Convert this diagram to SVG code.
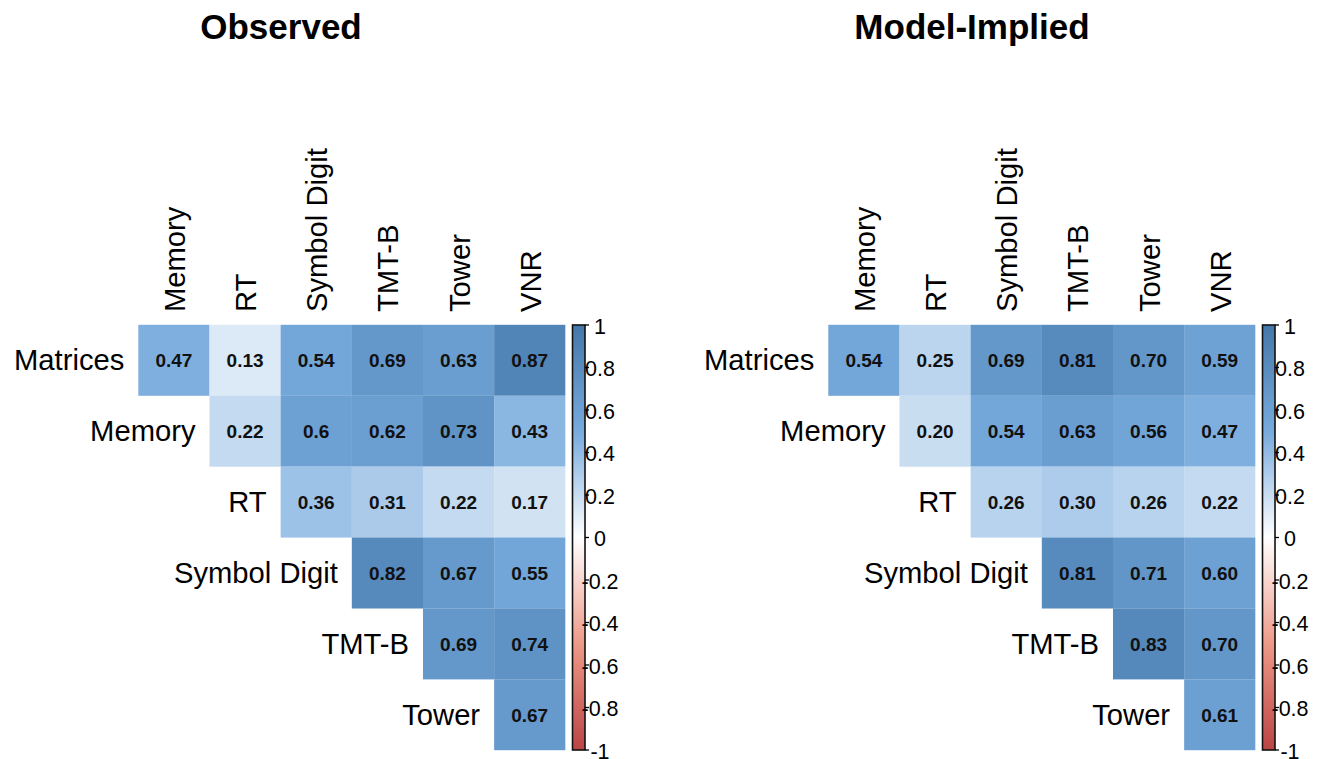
<svg xmlns="http://www.w3.org/2000/svg" width="1318" height="759" viewBox="0 0 1318 759">
<style>
.title{font-family:"Liberation Sans",Arial,sans-serif;font-weight:bold;font-size:35px;fill:#000;text-anchor:middle}
.rl{font-family:"Liberation Sans",Arial,sans-serif;font-size:29.2px;fill:#000;text-anchor:end}
.cl{font-family:"Liberation Sans",Arial,sans-serif;font-size:29.2px;fill:#000;text-anchor:start}
.v{font-family:"Liberation Sans",Arial,sans-serif;font-weight:bold;font-size:19px;fill:#111;text-anchor:middle}
.tk{font-family:"Liberation Sans",Arial,sans-serif;font-size:21.5px;fill:#000;text-anchor:middle}
.tick{stroke:#000;stroke-width:1.3}
.bar{stroke:#111;stroke-width:1.6}
</style>
<defs>
<linearGradient id="cb" x1="0" y1="0" x2="0" y2="1">
<stop offset="0" stop-color="#4477AA"/>
<stop offset="0.25" stop-color="#77AADD"/>
<stop offset="0.5" stop-color="#FFFFFF"/>
<stop offset="0.75" stop-color="#EE9988"/>
<stop offset="1" stop-color="#BB4444"/>
</linearGradient>
<g id="colorbar">
<rect class="bar" x="572.5" y="325" width="12.5" height="425" fill="url(#cb)"/>
<g class="tick">
<line x1="585" y1="325" x2="589" y2="325"/><line x1="585" y1="367.5" x2="589" y2="367.5"/><line x1="585" y1="410" x2="589" y2="410"/><line x1="585" y1="452.5" x2="589" y2="452.5"/><line x1="585" y1="495" x2="589" y2="495"/><line x1="585" y1="537.5" x2="589" y2="537.5"/><line x1="585" y1="580" x2="589" y2="580"/><line x1="585" y1="622.5" x2="589" y2="622.5"/><line x1="585" y1="665" x2="589" y2="665"/><line x1="585" y1="707.5" x2="589" y2="707.5"/><line x1="585" y1="750" x2="589" y2="750"/>
</g>
<text class="tk" x="600" y="333.5">1</text>
<text class="tk" x="600" y="376">0.8</text>
<text class="tk" x="600" y="418.5">0.6</text>
<text class="tk" x="600" y="461">0.4</text>
<text class="tk" x="600" y="503.5">0.2</text>
<text class="tk" x="600" y="546">0</text>
<text class="tk" x="600" y="588.5">-0.2</text>
<text class="tk" x="600" y="631">-0.4</text>
<text class="tk" x="600" y="673.5">-0.6</text>
<text class="tk" x="600" y="716">-0.8</text>
<text class="tk" x="600" y="758.5">-1</text>
</g>
<g id="axislabels">
<text class="rl" x="124.3" y="370.3">Matrices</text>
<text class="rl" x="195.5" y="441.2">Memory</text>
<text class="rl" x="266.6" y="512.1">RT</text>
<text class="rl" x="337.8" y="583">Symbol Digit</text>
<text class="rl" x="409" y="653.9">TMT-B</text>
<text class="rl" x="480.1" y="724.8">Tower</text>
<text class="cl" transform="translate(184.9,312) rotate(-90)">Memory</text>
<text class="cl" transform="translate(256.1,312) rotate(-90)">RT</text>
<text class="cl" transform="translate(327.2,312) rotate(-90)">Symbol Digit</text>
<text class="cl" transform="translate(398.4,312) rotate(-90)">TMT-B</text>
<text class="cl" transform="translate(469.6,312) rotate(-90)">Tower</text>
<text class="cl" transform="translate(540.7,312) rotate(-90)">VNR</text>
</g>
</defs>

<g id="observed">
<text class="title" x="281" y="39">Observed</text>
<g id="observed-cells">
<rect x="138.3" y="324.8" width="71.27" height="71" fill="#7FAFDF"/>
<rect x="209.47" y="324.8" width="71.27" height="71" fill="#DCE9F6"/>
<rect x="280.64" y="324.8" width="71.27" height="71" fill="#73A6D9"/>
<rect x="351.81" y="324.8" width="71.27" height="71" fill="#6497CA"/>
<rect x="422.98" y="324.8" width="71.27" height="71" fill="#6A9DD0"/>
<rect x="494.15" y="324.8" width="71.17" height="71" fill="#5184B7"/>
<rect x="209.47" y="395.7" width="71.27" height="71" fill="#C3DAF0"/>
<rect x="280.64" y="395.7" width="71.27" height="71" fill="#6DA0D3"/>
<rect x="351.81" y="395.7" width="71.27" height="71" fill="#6B9ED1"/>
<rect x="422.98" y="395.7" width="71.27" height="71" fill="#6093C6"/>
<rect x="494.15" y="395.7" width="71.17" height="71" fill="#8AB6E2"/>
<rect x="280.64" y="466.6" width="71.27" height="71" fill="#9DC2E7"/>
<rect x="351.81" y="466.6" width="71.27" height="71" fill="#ABCAEA"/>
<rect x="422.98" y="466.6" width="71.27" height="71" fill="#C3DAF0"/>
<rect x="494.15" y="466.6" width="71.17" height="71" fill="#D1E2F3"/>
<rect x="351.81" y="537.5" width="71.27" height="71" fill="#5689BC"/>
<rect x="422.98" y="537.5" width="71.27" height="71" fill="#6699CC"/>
<rect x="494.15" y="537.5" width="71.17" height="71" fill="#72A5D8"/>
<rect x="422.98" y="608.4" width="71.27" height="71" fill="#6497CA"/>
<rect x="494.15" y="608.4" width="71.17" height="71" fill="#5F92C5"/>
<rect x="494.15" y="679.3" width="71.17" height="70.9" fill="#6699CC"/>
</g>
<g id="observed-values">
<text class="v" x="173.9" y="367.3">0.47</text>
<text class="v" x="245.1" y="367.3">0.13</text>
<text class="v" x="316.2" y="367.3">0.54</text>
<text class="v" x="387.4" y="367.3">0.69</text>
<text class="v" x="458.6" y="367.3">0.63</text>
<text class="v" x="529.7" y="367.3">0.87</text>
<text class="v" x="245.1" y="438.2">0.22</text>
<text class="v" x="316.2" y="438.2">0.6</text>
<text class="v" x="387.4" y="438.2">0.62</text>
<text class="v" x="458.6" y="438.2">0.73</text>
<text class="v" x="529.7" y="438.2">0.43</text>
<text class="v" x="316.2" y="509.1">0.36</text>
<text class="v" x="387.4" y="509.1">0.31</text>
<text class="v" x="458.6" y="509.1">0.22</text>
<text class="v" x="529.7" y="509.1">0.17</text>
<text class="v" x="387.4" y="580">0.82</text>
<text class="v" x="458.6" y="580">0.67</text>
<text class="v" x="529.7" y="580">0.55</text>
<text class="v" x="458.6" y="651">0.69</text>
<text class="v" x="529.7" y="651">0.74</text>
<text class="v" x="529.7" y="722">0.67</text>
</g>
<use href="#axislabels"/>
<use href="#colorbar"/>
</g>

<g id="model-implied" transform="translate(690,0)">
<text class="title" x="282" y="39">Model-Implied</text>
<g id="model-cells">
<rect x="138.3" y="324.8" width="71.27" height="71" fill="#73A6D9"/>
<rect x="209.47" y="324.8" width="71.27" height="71" fill="#BBD5EE"/>
<rect x="280.64" y="324.8" width="71.27" height="71" fill="#6497CA"/>
<rect x="351.81" y="324.8" width="71.27" height="71" fill="#578ABD"/>
<rect x="422.98" y="324.8" width="71.27" height="71" fill="#6396C9"/>
<rect x="494.15" y="324.8" width="71.17" height="71" fill="#6EA1D4"/>
<rect x="209.47" y="395.7" width="71.27" height="71" fill="#C9DDF1"/>
<rect x="280.64" y="395.7" width="71.27" height="71" fill="#73A6D9"/>
<rect x="351.81" y="395.7" width="71.27" height="71" fill="#6A9DD0"/>
<rect x="422.98" y="395.7" width="71.27" height="71" fill="#71A4D7"/>
<rect x="494.15" y="395.7" width="71.17" height="71" fill="#7FAFDF"/>
<rect x="280.64" y="466.6" width="71.27" height="71" fill="#B8D3ED"/>
<rect x="351.81" y="466.6" width="71.27" height="71" fill="#ADCCEB"/>
<rect x="422.98" y="466.6" width="71.27" height="71" fill="#B8D3ED"/>
<rect x="494.15" y="466.6" width="71.17" height="71" fill="#C3DAF0"/>
<rect x="351.81" y="537.5" width="71.27" height="71" fill="#578ABD"/>
<rect x="422.98" y="537.5" width="71.27" height="71" fill="#6295C8"/>
<rect x="494.15" y="537.5" width="71.17" height="71" fill="#6DA0D3"/>
<rect x="422.98" y="608.4" width="71.27" height="71" fill="#5588BB"/>
<rect x="494.15" y="608.4" width="71.17" height="71" fill="#6396C9"/>
<rect x="494.15" y="679.3" width="71.17" height="70.9" fill="#6C9FD2"/>
</g>
<g id="model-values">
<text class="v" x="173.9" y="367.3">0.54</text>
<text class="v" x="245.1" y="367.3">0.25</text>
<text class="v" x="316.2" y="367.3">0.69</text>
<text class="v" x="387.4" y="367.3">0.81</text>
<text class="v" x="458.6" y="367.3">0.70</text>
<text class="v" x="529.7" y="367.3">0.59</text>
<text class="v" x="245.1" y="438.2">0.20</text>
<text class="v" x="316.2" y="438.2">0.54</text>
<text class="v" x="387.4" y="438.2">0.63</text>
<text class="v" x="458.6" y="438.2">0.56</text>
<text class="v" x="529.7" y="438.2">0.47</text>
<text class="v" x="316.2" y="509.1">0.26</text>
<text class="v" x="387.4" y="509.1">0.30</text>
<text class="v" x="458.6" y="509.1">0.26</text>
<text class="v" x="529.7" y="509.1">0.22</text>
<text class="v" x="387.4" y="580">0.81</text>
<text class="v" x="458.6" y="580">0.71</text>
<text class="v" x="529.7" y="580">0.60</text>
<text class="v" x="458.6" y="651">0.83</text>
<text class="v" x="529.7" y="651">0.70</text>
<text class="v" x="529.7" y="722">0.61</text>
</g>
<use href="#axislabels"/>
<use href="#colorbar"/>
</g>
</svg>
